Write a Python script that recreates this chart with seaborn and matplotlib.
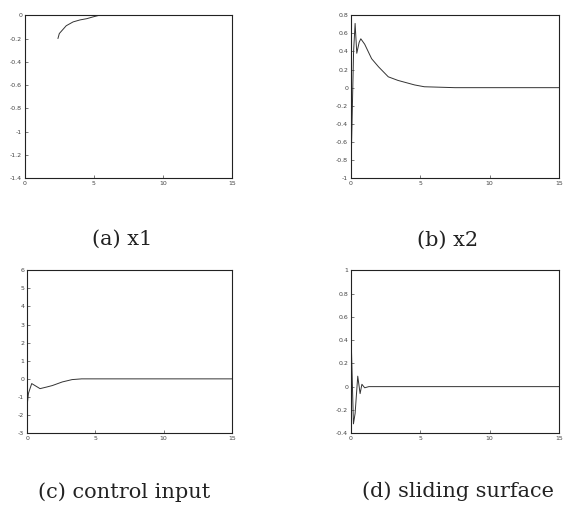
import numpy as np
import pandas as pd
import matplotlib
matplotlib.use('Agg')
import matplotlib.pyplot as plt
import seaborn as sns

# values
t_x1 = [2.4, 2.5, 3.0, 3.5, 4.0, 4.5, 5.0, 5.4, 15.0]
x1 = [-0.2, -0.157, -0.09, -0.057, -0.04, -0.029, -0.012, 0.0, 0.0]

t_x2 = [0, 0.1, 0.2, 0.31, 0.43, 0.6, 0.72, 1.0, 1.5, 2.0, 2.7, 3.4, 4.6, 5.3, 7.5, 15]
x2 = [-1, -0.3, 0.4, 0.71, 0.38, 0.5, 0.54, 0.48, 0.32, 0.23, 0.12, 0.08, 0.03, 0.01, 0, 0]

t_u = [0, 0.1, 0.34, 0.95, 1.44, 1.85, 2.58, 3.3, 4.0, 15]
u = [-1.5, -0.8, -0.26, -0.54, -0.45, -0.37, -0.17, -0.04, 0, 0]

t_s = [0, 0.05, 0.19, 0.31, 0.5, 0.67, 0.8, 1.0, 1.3, 15]
s = [1, 0.3, -0.32, -0.23, 0.09, -0.06, 0.02, -0.01, 0, 0]

captions = ['(a) x1', '(b) x2', '(c) control input', '(d) sliding surface']
xticks = [0, 5, 10, 15]
yticks_a = [0, -0.2, -0.4, -0.6, -0.8, -1, -1.2, -1.4]
yticks_b = [0.8, 0.6, 0.4, 0.2, 0, -0.2, -0.4, -0.6, -0.8, -1]
yticks_c = [6, 5, 4, 3, 2, 1, 0, -1, -2, -3]
yticks_d = [1, 0.8, 0.6, 0.4, 0.2, 0, -0.2, -0.4]

sns.set_theme(style='white')
plt.rcParams['font.family'] = ['DejaVu Sans']

fig = plt.figure(figsize=(5.64, 5.09), dpi=100)

panels = [
    ([0.044, 0.650, 0.367, 0.320], t_x1, x1, yticks_a, (-1.4, 0)),
    ([0.622, 0.650, 0.369, 0.320], t_x2, x2, yticks_b, (-1, 0.8)),
    ([0.048, 0.149, 0.363, 0.320], t_u, u, yticks_c, (-3, 6)),
    ([0.622, 0.149, 0.369, 0.320], t_s, s, yticks_d, (-0.4, 1)),
]

for rect, tx, ty, yt, ylim in panels:
    ax = fig.add_axes(rect)
    df = pd.DataFrame({'t': tx, 'y': ty})
    sns.lineplot(data=df, x='t', y='y', ax=ax, color='#333333', linewidth=0.7)
    ax.set_xlim(0, 15)
    ax.set_ylim(*ylim)
    ax.set_xticks(xticks)
    ax.set_yticks(yt)
    ax.set_xticklabels([str(v) for v in xticks])
    ax.set_yticklabels([('%g' % v) for v in yt])
    ax.set_xlabel('')
    ax.set_ylabel('')
    ax.tick_params(direction='in', length=2, width=0.5, labelsize=4.5,
                   colors='#444444', pad=2, left=True, bottom=True)
    for sp in ax.spines.values():
        sp.set_linewidth(0.8)
        sp.set_color('#222222')

# captions under each panel
cap_pos = [(0.216, 0.530), (0.793, 0.527), (0.220, 0.034), (0.812, 0.035)]
for (cx, cy), txt in zip(cap_pos, captions):
    fig.text(cx, cy, txt, ha='center', va='center', fontsize=15,
             family='DejaVu Serif', color='#222222')

fig.savefig('out.png', dpi=100)
